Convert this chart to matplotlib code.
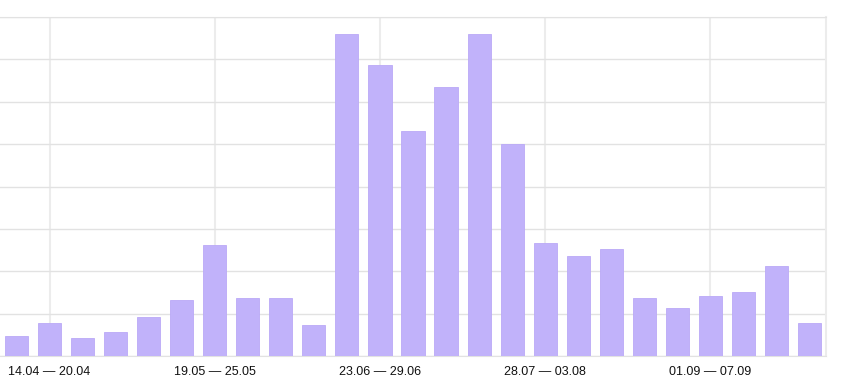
import matplotlib.pyplot as plt

# weekly counts (y axis labels are cropped in the reference, scale is estimated)
weeks = [
    "07.04 — 13.04", "14.04 — 20.04", "21.04 — 27.04", "28.04 — 04.05",
    "05.05 — 11.05", "12.05 — 18.05", "19.05 — 25.05", "26.05 — 01.06",
    "02.06 — 08.06", "09.06 — 15.06", "16.06 — 22.06", "23.06 — 29.06",
    "30.06 — 06.07", "07.07 — 13.07", "14.07 — 20.07", "21.07 — 27.07",
    "28.07 — 03.08", "04.08 — 10.08", "11.08 — 17.08", "18.08 — 24.08",
    "25.08 — 31.08", "01.09 — 07.09", "08.09 — 14.09", "15.09 — 21.09",
    "22.09 — 28.09",
]
counts = [4.7, 7.8, 4.2, 5.7, 9.2, 13.2, 26.2, 13.7, 13.7, 7.3,
          75.9, 68.6, 53.1, 63.4, 75.9, 50.0, 26.7, 23.6, 25.2, 13.7,
          11.3, 14.2, 15.1, 21.2, 7.8]
label_idx = [1, 6, 11, 16, 21]

plt.rcParams["font.family"] = ["Liberation Sans", "DejaVu Sans"]

fig = plt.figure(figsize=(8.44, 3.83), dpi=100)
ax = fig.add_axes([0, 27 / 383, 826 / 844, 339 / 383])

x = range(len(counts))
ax.bar(x, counts, width=0.7, color="#c1b2fa", edgecolor="#baa9f7", linewidth=0.6, zorder=3)

ax.set_xlim(-0.5, len(counts) - 0.5)
ax.set_ylim(0, 80)
ax.set_yticks(range(0, 81, 10))
ax.set_yticklabels([])
ax.set_xticks(label_idx)
ax.set_xticklabels([weeks[i] for i in label_idx], fontsize=9, color="#111111")
ax.tick_params(axis="both", length=0)
ax.tick_params(axis="x", pad=7)

ax.grid(axis="y", color="#e2e2e2", linewidth=1, zorder=0)
ax.grid(axis="x", color="#ececec", linewidth=1.5, zorder=0)

ax.spines["left"].set_visible(False)
ax.spines["top"].set_color("#e2e2e2")
ax.spines["right"].set_color("#ececec")
ax.spines["right"].set_linewidth(1.5)
ax.spines["bottom"].set_color("#e2e2e2")

fig.savefig("out.png", dpi=100)
